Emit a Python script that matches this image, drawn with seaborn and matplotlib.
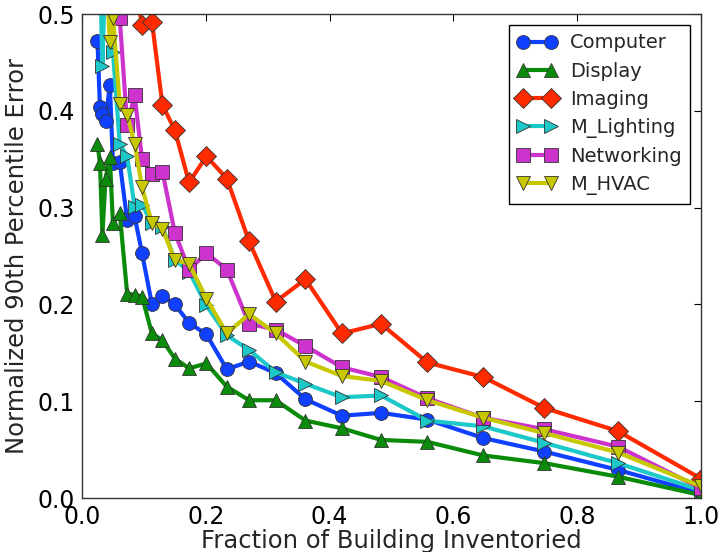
import numpy as np
import pandas as pd
import matplotlib
matplotlib.use('Agg')
import matplotlib.pyplot as plt
import seaborn as sns

# fraction of building inventoried (shared x positions)
frac = [0.025, 0.029, 0.033, 0.038, 0.045, 0.050, 0.061, 0.073, 0.085, 0.097,
        0.113, 0.130, 0.150, 0.173, 0.201, 0.234, 0.270, 0.313, 0.361, 0.420,
        0.483, 0.558, 0.648, 0.747, 0.866, 1.0]

computer = [0.472, 0.404, 0.397, 0.389, 0.427, 0.346, 0.347, 0.287, 0.291, 0.253,
            0.200, 0.209, 0.200, 0.181, 0.169, 0.133, 0.141, 0.129, 0.102, 0.085,
            0.088, 0.081, 0.062, 0.048, 0.029, 0.005]
display = [0.366, 0.346, 0.272, 0.330, 0.352, 0.284, 0.294, 0.211, 0.210, 0.208,
           0.170, 0.163, 0.144, 0.134, 0.139, 0.115, 0.101, 0.101, 0.080, 0.072,
           0.060, 0.058, 0.044, 0.036, 0.022, 0.003]
imaging = [0.95, 0.90, 0.85, 0.80, 0.74, 0.68, 0.62, 0.57, 0.53, 0.489,
           0.492, 0.406, 0.380, 0.326, 0.353, 0.330, 0.265, 0.203, 0.226, 0.170,
           0.180, 0.140, 0.125, 0.093, 0.069, 0.020]
m_lighting = [0.62, 0.55, 0.446, 0.56, 0.53, 0.461, 0.366, 0.353, 0.301, 0.303,
              0.284, 0.280, 0.246, 0.234, 0.199, 0.168, 0.153, 0.130, 0.118, 0.104,
              0.106, 0.080, 0.074, 0.057, 0.036, 0.008]
networking = [0.80, 0.76, 0.72, 0.68, 0.63, 0.58, 0.496, 0.385, 0.416, 0.350,
              0.335, 0.337, 0.274, 0.236, 0.253, 0.236, 0.180, 0.174, 0.157, 0.135,
              0.125, 0.103, 0.083, 0.071, 0.053, 0.010]
m_hvac = [0.65, 0.60, 0.58, 0.55, 0.471, 0.496, 0.407, 0.396, 0.366, 0.321,
          0.284, 0.278, 0.246, 0.242, 0.206, 0.170, 0.190, 0.170, 0.141, 0.126,
          0.121, 0.101, 0.083, 0.067, 0.047, 0.012]

names = ['Computer', 'Display', 'Imaging', 'M_Lighting', 'Networking', 'M_HVAC']
series = [computer, display, imaging, m_lighting, networking, m_hvac]
colors = ['#1040ff', '#0a8c0a', '#ff2a00', '#1cc8c8', '#cc33cc', '#c8c800']
markers = ['o', '^', 'D', '>', 's', 'v']

sns.set_style('white')
plt.rcParams['font.family'] = ['DejaVu Sans']

fig = plt.figure(figsize=(7.23, 5.52), dpi=100)
ax = fig.add_axes([0.1134, 0.0978, 0.8562, 0.8768])

for name, vals, col, mk in zip(names, series, colors, markers):
    df = pd.DataFrame({'x': frac, 'y': vals})
    sns.lineplot(data=df, x='x', y='y', ax=ax, color=col, marker=mk,
                 markersize=10, linewidth=3, markeredgecolor='#333333',
                 markeredgewidth=0.6, label=name)

ax.set_xlim(0, 1.0)
ax.set_ylim(0, 0.5)
ax.set_xticks([0.0, 0.2, 0.4, 0.6, 0.8, 1.0])
ax.set_yticks([0.0, 0.1, 0.2, 0.3, 0.4, 0.5])
ax.tick_params(direction='in', length=5, width=0.8, top=True, right=True,
               labelsize=17, colors='black', pad=5)
for sp in ax.spines.values():
    sp.set_color('#333333')
    sp.set_linewidth(1.0)
ax.set_xlabel('Fraction of Building Inventoried', fontsize=17.5, labelpad=0)
ax.set_ylabel('Normalized 90th Percentile Error', fontsize=17.5, labelpad=6)

leg = ax.legend(loc='upper right', numpoints=2, fontsize=14, fancybox=False,
                framealpha=1, edgecolor='black', borderpad=0.45,
                handlelength=2.0, handletextpad=0.7, labelspacing=0.47,
                borderaxespad=0.55)
leg.get_frame().set_linewidth(1.0)

fig.savefig('out.png', dpi=100)
